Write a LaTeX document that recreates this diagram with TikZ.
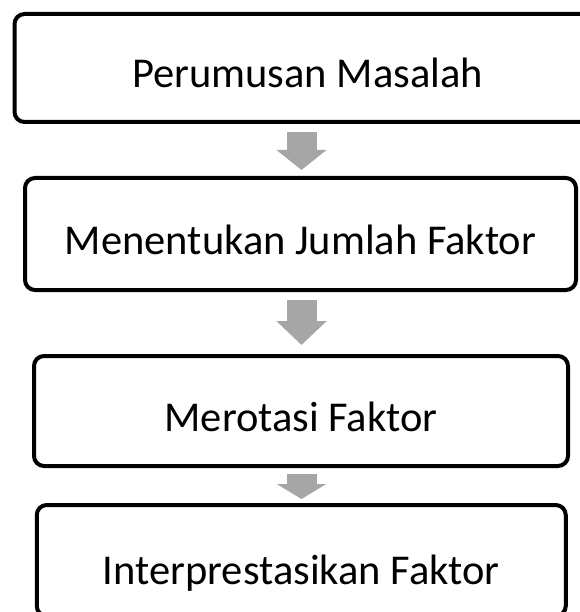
\documentclass[tikz,border=0pt]{standalone}
\usepackage{fontspec}
\setmainfont{Carlito}
\usetikzlibrary{arrows.meta}
\definecolor{arrowgray}{RGB}{166,166,166}
\tikzset{
  stepbox/.style={draw, line width=4pt, rounded corners=10pt, inner sep=0pt,
    text height=40pt, text depth=0pt, font=\fontsize{42.5}{50}\selectfont},
  flowarrow/.style={draw=arrowgray, line width=30pt}
}

\begin{document}
\begin{tikzpicture}[x=1pt, y=-1pt]
    \useasboundingbox (0,0) rectangle (579,612);
    \node[stepbox, minimum width=586pt, minimum height=108pt] (b1) at (307.5,68) {Perumusan Masalah};
    \node[stepbox, minimum width=551pt, minimum height=112pt] (b2) at (300.5,234) {Menentukan Jumlah Faktor};
    \node[stepbox, minimum width=534pt, minimum height=110pt] (b3) at (301,411) {Merotasi Faktor};
    \node[stepbox, minimum width=529pt, minimum height=111pt, text height=48pt] (b4) at (301.25,560.5) {Interprestasikan Faktor};
    \coordinate (ax) at (301.5,0);
    \foreach \a/\b/\s/\e/\h in {b1/b2/8pt/6pt/20pt, b2/b3/8pt/9pt/24pt, b3/b4/6pt/4pt/15pt} {
      \draw[flowarrow, -{Triangle[width=49pt, length=\h]}] ([yshift=-\s]\a.south -| ax) -- ([yshift=\e]\b.north -| ax);
    }
\end{tikzpicture}
\end{document}
